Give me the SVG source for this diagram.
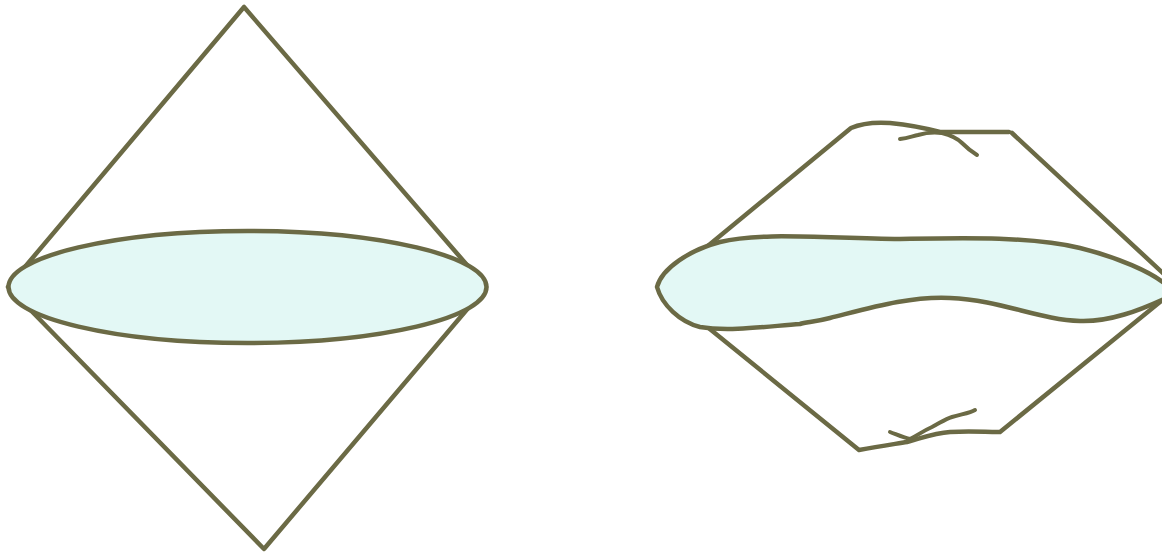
<svg xmlns="http://www.w3.org/2000/svg" width="1162" height="556" viewBox="0 0 1162 556">
<style>
.ln{fill:none;stroke:#6b6a45;stroke-width:4.5;stroke-linecap:round;stroke-linejoin:round}
.sk{fill:#e3f8f5;stroke:#6b6a45;stroke-width:4.5;stroke-linejoin:round}
.cr{fill:none;stroke:#6b6a45;stroke-width:4;stroke-linecap:round;stroke-linejoin:round}
</style>
<rect width="1162" height="556" fill="#ffffff"/>
<g id="left-diagram">
<polygon class="ln" points="244,7 8,287 264,549 486,287"/>
<ellipse class="sk" cx="247.5" cy="287" rx="239" ry="56"/>
</g>
<g id="right-diagram">
<path class="ln" d="M658,287 L851,128 C860,124 875,122 890,123 C910,125 925,128 940,132 L1009,132"/>
<path class="ln" d="M1012,133 L1165,275"/>
<path class="ln" d="M658,287 L859,450 C880,446 895,444 907,442 C925,437 935,433 950,432 C970,431 985,432 997,432 L1000,432 L1165,298"/>
<path class="cr" d="M900,139 C908,138 913,136 918,135 C928,132 935,132 942,133 C950,135 957,138 962,143 C967,148 972,152 977,155"/>
<path class="cr" d="M890,432 C898,435 905,438 910,439 C918,435 923,431 932,427 C940,423 945,419 952,417 C962,414 970,413 975,410"/>
<path class="sk" d="M657,287 C662,268 690,250 720,242 C760,232 820,238 900,239 C960,238 1030,236 1080,248 C1120,258 1150,272 1164,283 L1168,292 L1164,299 C1140,310 1110,322 1080,321 C1040,320 1000,300 950,298 C910,296 870,308 830,318 C815,322 806,322 800,324 C770,326 730,332 700,327 C680,322 662,305 657,287 Z"/>
</g>
</svg>
